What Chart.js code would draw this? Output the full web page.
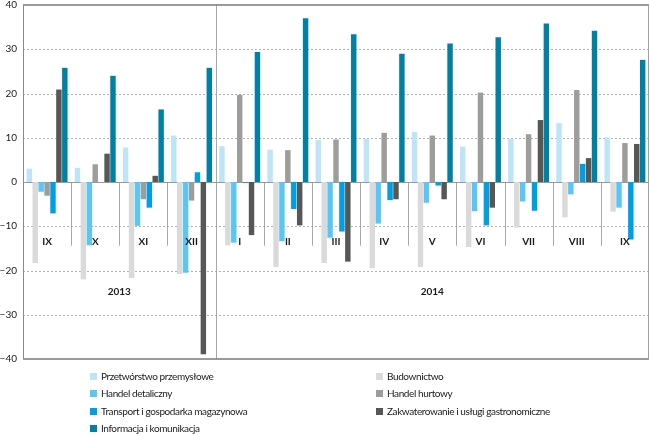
<!DOCTYPE html>
<html><head><meta charset="utf-8">
<script src="https://cdn.jsdelivr.net/npm/chart.js@4.4.1/dist/chart.umd.min.js"></script>
<style>
html,body{margin:0;padding:0;background:#fff;}
#wrap{position:relative;width:650px;height:434px;overflow:hidden;}
#c{position:absolute;left:0;top:0;}
.leg{position:absolute;font:10px Lato,'Liberation Sans',sans-serif;letter-spacing:-0.4px;color:#1a1a1a;white-space:nowrap;line-height:12px;height:12px;}
.leg i{display:inline-block;width:7px;height:7px;margin-right:4px;position:relative;top:0px;}
</style>
</head><body>
<div id="wrap"><canvas id="c" width="650" height="434"></canvas></div>
<script>
// ---- data ----
const months = ['IX','X','XI','XII','I','II','III','IV','V','VI','VII','VIII','IX'];
const years = ['2013','2014'];
const yearGroupCounts = [4, 9];
const yTicks = [-40,-30,-20,-10,0,10,20,30,40];

const seriesNames = ['Przetwórstwo przemysłowe','Budownictwo','Handel detaliczny','Handel hurtowy','Transport i gospodarka magazynowa','Zakwaterowanie i usługi gastronomiczne','Informacja i komunikacja'];
const przetworstwo = [3.0,3.2,7.8,10.5,8.1,7.3,9.5,9.8,11.3,8.0,9.8,13.3,10.1];
const budownictwo = [-18.3,-22.0,-21.7,-20.8,-14.3,-19.2,-18.3,-19.5,-19.2,-14.7,-10.3,-8.0,-6.7];
const handelDetaliczny = [-2.2,-14.3,-9.9,-20.5,-13.7,-13.4,-12.6,-9.4,-4.7,-6.6,-4.4,-2.8,-5.8];
const handelHurtowy = [-3.1,4.0,-3.9,-4.2,19.7,7.2,9.6,11.1,10.5,20.2,10.8,20.8,8.8];
const transport = [-7.1,0.0,-5.8,2.2,-0.2,-6.1,-11.2,-4.1,-0.8,-9.8,-6.5,4.1,-13.0];
const zakwaterowanie = [20.9,6.4,1.4,-38.9,-12.0,-9.8,-18.0,-3.9,-3.9,-5.8,14.0,5.4,8.6];
const informacja = [25.8,24.0,16.4,25.8,29.4,37.0,33.4,29.0,31.3,32.7,35.8,34.2,27.6];

const seriesValues = [przetworstwo,budownictwo,handelDetaliczny,handelHurtowy,transport,zakwaterowanie,informacja];
const seriesColors = ['#bee4f8','#dadada','#5cc6f2','#9d9d9c','#009fe3','#575756','#0080a4'];

// ---- legend (HTML) ----
const legendOrder = [[0,1],[2,3],[4,5],[6,null]];
const wrap = document.getElementById('wrap');
legendOrder.forEach((row, r) => {
  row.forEach((si, col) => {
    if (si === null) return;
    const d = document.createElement('div');
    d.className = 'leg';
    d.style.left = (col === 0 ? 90 : 376) + 'px';
    d.style.top = (369.5 + r * 17.5) + 'px';
    d.innerHTML = '<i style="background:' + seriesColors[si] + '"></i>' + seriesNames[si];
    wrap.appendChild(d);
  });
});

// ---- decorations plugin ----
const deco = {
  id: 'deco',
  beforeDatasetsDraw(chart) {
    const {ctx, chartArea: a, scales: {x, y}} = chart;
    ctx.save();
    ctx.strokeStyle = '#b0b0b0';
    ctx.lineWidth = 1;
    ctx.setLineDash([2, 2]);
    yTicks.forEach(v => {
      if (v === 0 || v === 40 || v === -40) return;
      const py = Math.round(y.getPixelForValue(v)) + 0.5;
      ctx.beginPath(); ctx.moveTo(a.left, py); ctx.lineTo(a.right, py); ctx.stroke();
    });
    ctx.setLineDash([]);
    ctx.strokeStyle = '#a8a8a8';
    const y0 = y.getPixelForValue(0);
    const yEnd = y.getPixelForValue(-14.4);
    for (let i = 0; i < months.length - 1; i++) {
      const px = Math.round((x.getPixelForValue(i) + x.getPixelForValue(i + 1)) / 2) + 0.5;
      ctx.beginPath();
      if (i === yearGroupCounts[0] - 1) { ctx.moveTo(px, a.top); ctx.lineTo(px, a.bottom); }
      else { ctx.moveTo(px, y0); ctx.lineTo(px, yEnd); }
      ctx.stroke();
    }
    ctx.strokeStyle = '#999999';
    const pz = Math.round(y0) + 0.5;
    ctx.beginPath(); ctx.moveTo(a.left, pz); ctx.lineTo(a.right, pz); ctx.stroke();
    ctx.restore();
  },
  afterDatasetsDraw(chart) {
    const {ctx, chartArea: a, scales: {x, y}} = chart;
    ctx.save();
    ctx.lineWidth = 1.5;
    ctx.strokeStyle = '#7a7a7a';
    ctx.beginPath(); ctx.moveTo(a.left, a.top); ctx.lineTo(a.right, a.top); ctx.stroke();
    ctx.beginPath(); ctx.moveTo(a.left, a.bottom); ctx.lineTo(a.right, a.bottom); ctx.stroke();
    ctx.lineWidth = 1;
    ctx.strokeStyle = '#8a8a8a';
    ctx.beginPath(); ctx.moveTo(Math.round(a.left) + 0.5, a.top); ctx.lineTo(Math.round(a.left) + 0.5, a.bottom); ctx.stroke();
    ctx.strokeStyle = '#a0a0a0';
    ctx.beginPath(); ctx.moveTo(Math.round(a.right) - 0.5, a.top); ctx.lineTo(Math.round(a.right) - 0.5, a.bottom); ctx.stroke();
    ctx.fillStyle = '#1a1a1a';
    ctx.font = 'bold 10px Lato, "Liberation Sans", sans-serif';
    ctx.textAlign = 'center';
    ctx.textBaseline = 'middle';
    const my = y.getPixelForValue(-13.4);
    months.forEach((m, i) => ctx.fillText(m, x.getPixelForValue(i), my));
    const yy = y.getPixelForValue(-24.8);
    let start = 0;
    years.forEach((yr, k) => {
      const n = yearGroupCounts[k];
      const cx = (x.getPixelForValue(start) + x.getPixelForValue(start + n - 1)) / 2;
      ctx.fillText(yr, cx, yy);
      start += n;
    });
    ctx.restore();
  }
};

new Chart(document.getElementById('c'), {
  type: 'bar',
  data: {
    labels: months,
    datasets: seriesNames.map((n, i) => ({
      label: n,
      data: seriesValues[i],
      backgroundColor: seriesColors[i],
      borderWidth: 0,
      categoryPercentage: 0.86,
      barPercentage: 0.92
    }))
  },
  options: {
    responsive: false,
    animation: false,
    devicePixelRatio: 1,
    layout: { padding: { top: 5, right: 1, bottom: 75, left: 0 } },
    plugins: { legend: { display: false }, tooltip: { enabled: false } },
    scales: {
      x: { display: false, offset: true },
      y: {
        min: -40, max: 40,
        afterBuildTicks: s => { s.ticks = yTicks.map(v => ({ value: v })); },
        afterFit: s => { s.width = 23; s.paddingTop = 0; s.paddingBottom = 0; },
        grid: { display: false, drawTicks: false },
        border: { display: false },
        ticks: {
          padding: 6,
          color: '#1a1a1a',
          font: { size: 10, family: 'Lato, "Liberation Sans", sans-serif' },
          callback: v => v < 0 ? '\u2212' + Math.abs(v) : String(v)
        }
      }
    }
  },
  plugins: [deco]
});
</script>
</body></html>
